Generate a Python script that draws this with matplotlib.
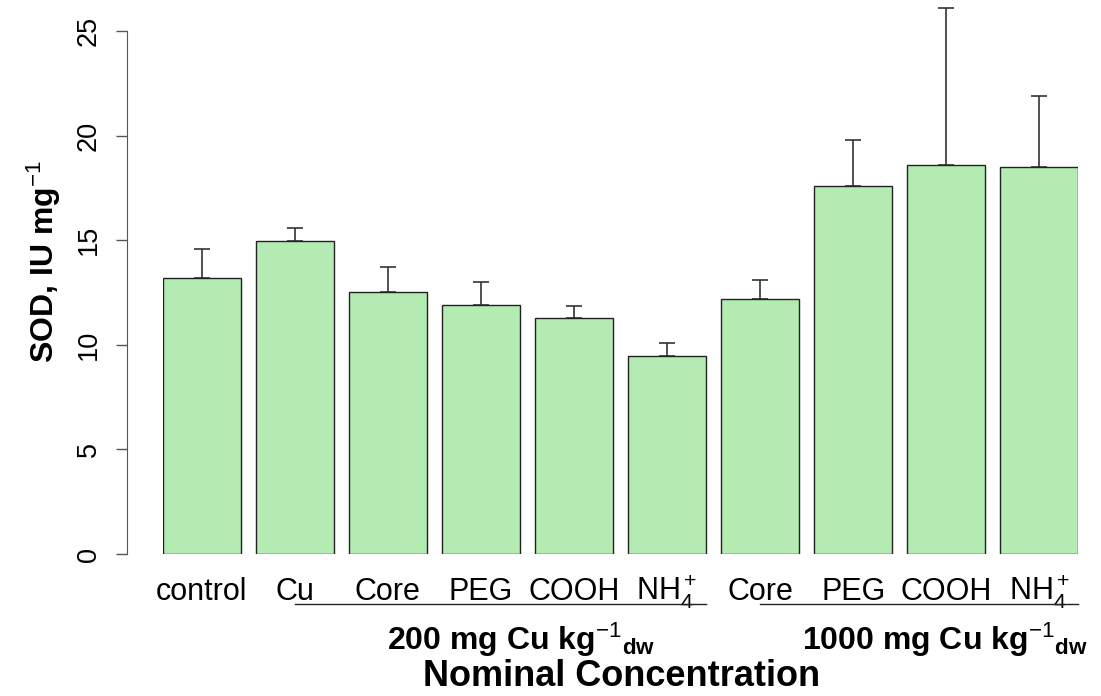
import matplotlib
matplotlib.use("Agg")
import matplotlib.pyplot as plt
from matplotlib.transforms import blended_transform_factory
from matplotlib.lines import Line2D

categories = ["control", "Cu", "Core", "PEG", "COOH", r"$\mathrm{NH}_4^+$",
              "Core", "PEG", "COOH", r"$\mathrm{NH}_4^+$"]
means = [13.2, 14.96, 12.5, 11.9, 11.3, 9.46, 12.2, 17.6, 18.6, 18.5]
upper = [14.6, 15.6, 13.7, 13.0, 11.85, 10.1, 13.1, 19.8, 26.1, 21.9]
group_labels = [r"200 mg Cu kg$^{-1}$$_{\mathbf{dw}}$",
                r"1000 mg Cu kg$^{-1}$$_{\mathbf{dw}}$"]
yticks = [0, 5, 10, 15, 20, 25]

FONT = ["Liberation Sans", "DejaVu Sans"]
plt.rcParams["font.family"] = FONT
plt.rcParams["mathtext.fontset"] = "custom"
plt.rcParams["mathtext.rm"] = "Liberation Sans"
plt.rcParams["mathtext.it"] = "Liberation Sans:italic"
plt.rcParams["mathtext.bf"] = "Liberation Sans:bold"
plt.rcParams["mathtext.sf"] = "Liberation Sans"

W, H = 1101, 696
fig = plt.figure(figsize=(W / 100, H / 100), dpi=100)
ax = fig.add_axes([163 / W, (H - 554) / H, (1078 - 163) / W, 554 / H])

width = 1.0
space = 0.2
xs = [space + width / 2 + i * (width + space) for i in range(len(means))]
err = [u - m for u, m in zip(upper, means)]

ax.bar(xs, means, width=width, color="#b3ebb3", edgecolor="#222222", linewidth=1.0,
       zorder=2)
ax.errorbar(xs, means, yerr=[[0] * len(err), err], fmt="none", ecolor="#333333",
            elinewidth=1.2, capsize=6, capthick=1.2, zorder=1)

ax.set_xlim(0.2, 12.0)
ax.set_ylim(0, 26.48)

for s in ["top", "right", "bottom"]:
    ax.spines[s].set_visible(False)
ax.spines["left"].set_position(("outward", 36 * 0.72))
ax.spines["left"].set_bounds(0, 25)
ax.spines["left"].set_color("#555555")
ax.set_yticks(yticks)
ax.set_yticklabels([str(t) for t in yticks], rotation=90, va="center", fontsize=19.5)
ax.tick_params(axis="y", length=8, width=1, color="#555555", pad=10)
ax.set_xticks([])

fig.text(44 / W, 1 - 262 / H, r"SOD, IU mg$^{-1}$", rotation=90, ha="center",
         va="center", fontsize=23, fontweight="bold")

tr = blended_transform_factory(ax.transData, fig.transFigure)
for x, lab in zip(xs, categories):
    ax.text(x, 1 - 592 / H, lab, transform=tr, ha="center", va="center",
            fontsize=22)

line_y = 1 - 604 / H
for x0, x1 in [(xs[1], xs[5] + width / 2), (xs[6], xs[9] + width / 2)]:
    fig.add_artist(Line2D([x0, x1], [line_y, line_y], transform=tr,
                          color="#222222", linewidth=1.0))

fig.text(521 / W, 1 - 640 / H, group_labels[0], ha="center", va="center",
         fontsize=23, fontweight="bold")
fig.text(945 / W, 1 - 640 / H, group_labels[1], ha="center", va="center",
         fontsize=23, fontweight="bold")
fig.text(622 / W, 1 - 677 / H, "Nominal Concentration", ha="center", va="center",
         fontsize=26, fontweight="bold")

fig.savefig("out.png", dpi=100)
